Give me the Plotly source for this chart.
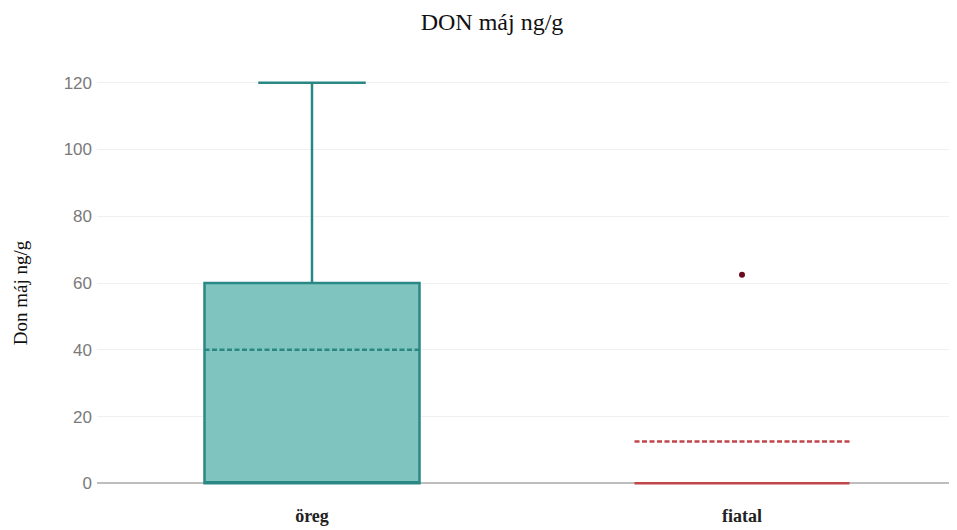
import plotly.graph_objects as go

categories = ["öreg", "fiatal"]

# öreg: summary statistics
oreg_q1 = [0]
oreg_median = [0]
oreg_q3 = [60]
oreg_lowerfence = [0]
oreg_upperfence = [120]
oreg_mean = [40]

# fiatal: sample values (box collapsed at 0, mean 12.5, one outlier)
fiatal_values = [0, 0, 0, 0, 62.5]

y_ticks = [0, 20, 40, 60, 80, 100, 120]

fig = go.Figure()
fig.add_trace(go.Box(
    x=[categories[0]], q1=oreg_q1, median=oreg_median, q3=oreg_q3,
    lowerfence=oreg_lowerfence, upperfence=oreg_upperfence, mean=oreg_mean,
    boxmean=True, whiskerwidth=0.5, width=0.5,
    fillcolor="#7fc4bf", line=dict(color="#2a8884", width=2.5),
    showlegend=False, hoverinfo="skip",
))
fig.add_trace(go.Box(
    x=[categories[1]] * len(fiatal_values), y=fiatal_values,
    quartilemethod="inclusive",
    boxpoints="outliers", boxmean=True, whiskerwidth=0.5, width=0.5,
    fillcolor="rgba(0,0,0,0)", line=dict(color="#c0464a", width=2.5),
    marker=dict(color="#6b0a1e", size=6),
    showlegend=False, hoverinfo="skip",
))

fig.update_layout(
    width=949, height=522,
    margin=dict(l=89, r=0, t=58, b=40),
    paper_bgcolor="white", plot_bgcolor="white",
    boxmode="overlay",
    title=dict(text="DON máj ng/g", x=0.51, xref="container", y=0.973, yref="container",
               xanchor="center", yanchor="middle",
               font=dict(family="Liberation Serif, Times New Roman, serif", size=24, color="#111")),
    xaxis=dict(categoryorder="array", categoryarray=categories, range=[-0.5, 1.5],
               showgrid=False, showline=False, ticks="", ticklabelstandoff=13, automargin=False,
               tickfont=dict(family="Liberation Serif, serif", size=18, color="#222",
                             weight="bold")),
    yaxis=dict(range=[-2, 125], tickvals=y_ticks, showgrid=True, gridcolor="#f0f0f0",
               gridwidth=1, zeroline=True, zerolinecolor="#bdbdbd", zerolinewidth=2,
               showline=False, ticks="", ticklabelstandoff=4, automargin=False,
               tickfont=dict(family="Liberation Sans, Arial, sans-serif", size=17, color="#7a7a7a")),
    annotations=[dict(text="Don máj ng/g", xref="paper", yref="paper",
                      x=-0.088, y=0.465, textangle=-90, showarrow=False,
                      xanchor="center", yanchor="middle",
                      font=dict(family="Liberation Serif, Times New Roman, serif", size=19,
                                color="#111"))],
)

fig.write_html("out.html")
